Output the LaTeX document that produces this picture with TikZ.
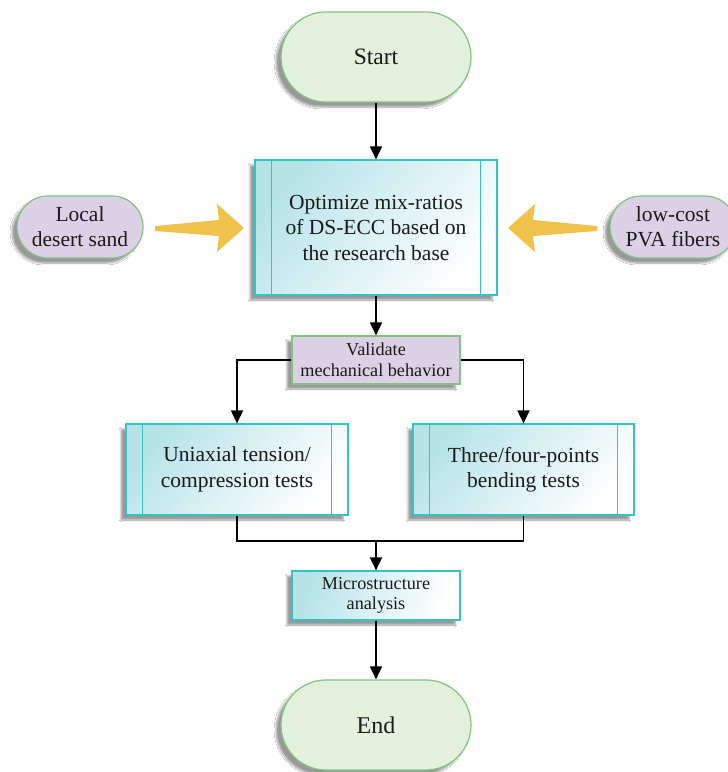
\documentclass[tikz,border=0pt]{standalone}
\usepackage{fontspec}
\setmainfont{Liberation Serif}
\usetikzlibrary{arrows.meta,shadows.blur}
\definecolor{tealb}{HTML}{33C3C7}
\definecolor{tealf}{HTML}{B6E3E8}
\definecolor{greenb}{HTML}{80C47E}
\definecolor{greenf}{HTML}{E2F0DC}
\definecolor{lavf}{HTML}{DCD0E6}
\definecolor{yel}{HTML}{F0C24A}
\definecolor{txt}{HTML}{1A1A1A}
\begin{document}
\begin{tikzpicture}[x=1pt,y=-1pt,
 shad/.style={blur shadow={shadow xshift=-5pt,shadow yshift=-5pt,shadow blur steps=8,shadow opacity=40}},
 term/.style={draw=greenb,line width=1.2pt,fill=greenf,minimum width=190pt,minimum height=90pt,rounded corners=45pt,text=txt,font=\fontsize{23.5}{27}\selectfont,shad},
 input/.style={draw=greenb,line width=1.2pt,fill=lavf,minimum width=126pt,minimum height=62pt,rounded corners=31pt,align=center,text=txt,inner sep=0pt,font=\fontsize{21.5}{25}\selectfont,shad},
 proc/.style={draw=tealb,line width=1.2pt,top color=tealf,bottom color=white,shading angle=50,align=center,text=txt,shad},
 small/.style={font=\fontsize{18.2}{20.5}\selectfont,inner sep=0pt},
 big/.style={font=\fontsize{21.5}{25.5}\selectfont,inner sep=0pt},
 conn/.style={line width=1.8pt,-{Triangle[width=12pt,length=13pt]}},
 plain/.style={line width=1.8pt},
 yarrow/.style={fill=yel,draw=none}]
\fill[white] (0,0) rectangle (728,772);
\useasboundingbox (0,0) rectangle (728,772);

\node[term] (start) at (376,57) {Start};
\node[proc,big,minimum width=242pt,minimum height=135pt] (opt) at (376,227.5) {Optimize mix-ratios\\of DS-ECC based on\\the research base};
\node[input] (sand) at (80,227) {Local\\desert sand};
\node[input] (pva) at (673,227) {low-cost\\PVA fibers};
\node[draw=greenb,line width=1.2pt,fill=lavf,minimum width=168pt,minimum height=48pt,align=center,text=txt,small,shad] (val) at (376,360) {Validate\\mechanical behavior};
\node[proc,big,minimum width=222pt,minimum height=91pt] (uni) at (237,469.5) {Uniaxial tension/\\compression tests};
\node[proc,big,minimum width=221pt,minimum height=91pt] (three) at (523.5,469.5) {Three/four-points\\bending tests};
\node[proc,small,minimum width=168pt,minimum height=49pt,shading angle=70] (micro) at (376,595.5) {Microstructure\\analysis};
\node[term,font=\fontsize{24}{28}\selectfont] (end) at (376,725) {End};

\foreach \n in {opt,uni,three}{
  \draw[tealb,line width=1.2pt] ([xshift=17pt]\n.north west) -- ([xshift=17pt]\n.south west)
    ([xshift=-17pt]\n.north east) -- ([xshift=-17pt]\n.south east);
}

\fill[yarrow] (155,226) -- (219,220) -- (217,204) -- (244,228) -- (217,252) -- (219,236) -- (155,231) -- cycle;
\fill[yarrow] (597,226) -- (533,220) -- (535,204) -- (508,228) -- (535,252) -- (533,236) -- (597,231) -- cycle;

\coordinate (j) at (376,541);
\draw[conn] (start) -- (opt);
\draw[conn] (opt) -- (val);
\draw[conn] (val.west) -| (uni.north);
\draw[conn] (val.east) -| (three.north);
\draw[plain] (uni.south) |- (j) -| (three.south);
\draw[conn] (j) -- (micro);
\draw[conn] (micro) -- (end);
\end{tikzpicture}
\end{document}
